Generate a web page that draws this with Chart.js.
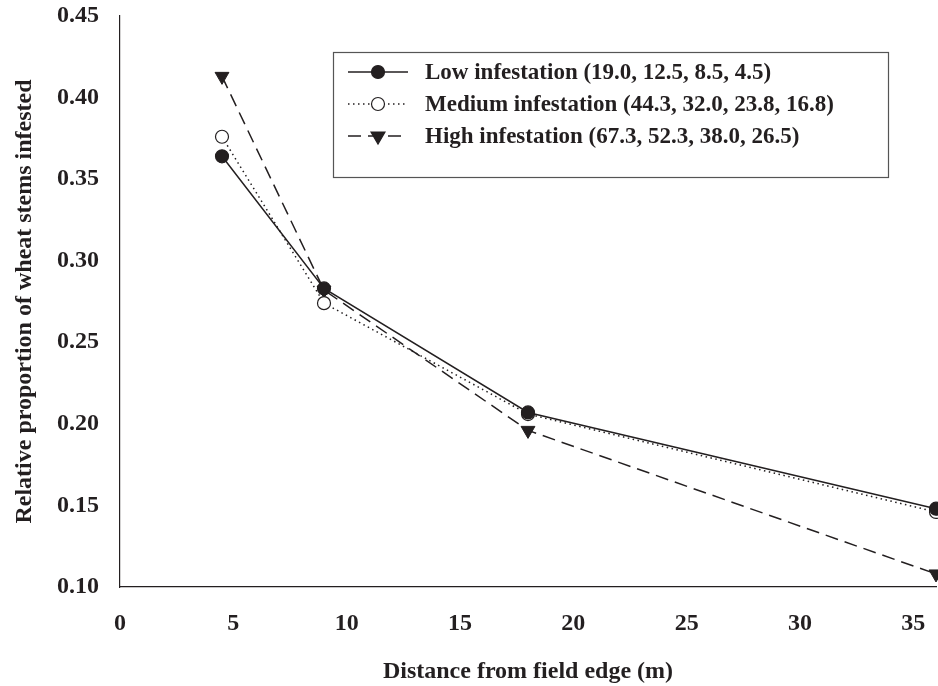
<!DOCTYPE html>
<html>
<head>
<meta charset="utf-8">
<script src="https://cdn.jsdelivr.net/npm/chart.js@4"></script>
<style>
  html, body { margin: 0; padding: 0; background: #fff; }
  #wrap { width: 938px; height: 686px; }
</style>
</head>
<body>
<div id="wrap"><canvas id="stemChart" width="938" height="686"></canvas></div>
<script>
// distances from field edge (m)
const distances = [4.5, 9, 18, 36];

// relative proportion of stems infested
const lowValues = [0.364, 0.283, 0.207, 0.148];
const mediumValues = [0.376, 0.274, 0.206, 0.146];
const highValues = [0.413, 0.282, 0.196, 0.108];

const seriesLabels = [
  "Low infestation (19.0, 12.5, 8.5, 4.5)",
  "Medium infestation (44.3, 32.0, 23.8, 16.8)",
  "High infestation (67.3, 52.3, 38.0, 26.5)"
];

const xTicks = [0, 5, 10, 15, 20, 25, 30, 35];
const yTicks = [0.10, 0.15, 0.20, 0.25, 0.30, 0.35, 0.40, 0.45];

const FONT = "'Liberation Serif', 'Times New Roman', serif";
const INK = "#231f20";

function toPoints(values) {
  return distances.map((d, i) => ({ x: d, y: values[i] }));
}

// Boxed legend with line-style samples, drawn in the top right of the plot
const boxLegend = {
  id: "boxLegend",
  afterDraw(chart) {
    const ctx = chart.ctx;
    const left = 333, top = 52, right = 888, bottom = 177;
    ctx.save();
    ctx.strokeStyle = "#555";
    ctx.lineWidth = 1.2;
    ctx.strokeRect(left + 0.5, top + 0.5, right - left, bottom - top);

    const rows = [72, 104, 136];
    chart.data.datasets.forEach((ds, i) => {
      const y = rows[i];
      ctx.strokeStyle = INK;
      ctx.lineWidth = ds.borderWidth;
      ctx.setLineDash(ds.borderDash || []);
      ctx.beginPath();
      ctx.moveTo(348, y);
      ctx.lineTo(408, y);
      ctx.stroke();
      ctx.setLineDash([]);

      // marker
      ctx.fillStyle = ds.pointBackgroundColor;
      ctx.strokeStyle = INK;
      ctx.lineWidth = 1.2;
      ctx.beginPath();
      if (ds.pointStyle === "triangle") {
        const r = 8;
        ctx.moveTo(378 - r * 0.87, y - r * 0.5);
        ctx.lineTo(378 + r * 0.87, y - r * 0.5);
        ctx.lineTo(378, y + r);
        ctx.closePath();
      } else {
        ctx.arc(378, y, 6.5, 0, Math.PI * 2);
      }
      ctx.fill();
      ctx.stroke();

      ctx.fillStyle = INK;
      ctx.font = "bold 23px " + FONT;
      ctx.textAlign = "left";
      ctx.textBaseline = "middle";
      ctx.fillText(ds.label, 425, y + 1);
    });
    ctx.restore();
  }
};

new Chart(document.getElementById("stemChart"), {
  type: "line",
  data: {
    datasets: [
      {
        label: seriesLabels[0],
        data: toPoints(lowValues),
        borderColor: INK,
        borderWidth: 1.5,
        pointStyle: "circle",
        pointRadius: 6.5,
        pointBackgroundColor: INK,
        pointBorderColor: INK,
        pointBorderWidth: 1.2,
        clip: false
      },
      {
        label: seriesLabels[1],
        data: toPoints(mediumValues),
        borderColor: INK,
        borderWidth: 1.5,
        borderDash: [1.5, 3.5],
        pointStyle: "circle",
        pointRadius: 6.5,
        pointBackgroundColor: "#fff",
        pointBorderColor: INK,
        pointBorderWidth: 1.2,
        clip: false
      },
      {
        label: seriesLabels[2],
        data: toPoints(highValues),
        borderColor: INK,
        borderWidth: 1.5,
        borderDash: [13, 7],
        pointStyle: "triangle",
        pointRotation: 180,
        pointRadius: 8,
        pointBackgroundColor: INK,
        pointBorderColor: INK,
        pointBorderWidth: 1,
        clip: false
      }
    ]
  },
  options: {
    responsive: false,
    animation: false,
    layout: { autoPadding: false, padding: { top: 16, right: 2, left: 0, bottom: 0 } },
    plugins: {
      legend: { display: false },
      tooltip: { enabled: false }
    },
    scales: {
      x: {
        type: "linear",
        min: 0,
        max: 36,
        afterBuildTicks: scale => { scale.ticks = xTicks.map(v => ({ value: v })); },
        afterFit: scale => { scale.height = 99; scale.paddingLeft = 0; scale.paddingRight = 0; },
        grid: { display: false, drawTicks: true, tickLength: 8, tickColor: INK, drawOnChartArea: false },
        border: { color: INK, width: 1.2 },
        ticks: {
          color: INK,
          padding: 14,
          maxRotation: 0,
          font: { family: FONT, size: 24, weight: "bold" },
          callback: v => String(v)
        },
        title: {
          display: true,
          text: "Distance from field edge (m)",
          color: INK,
          padding: { top: 5, bottom: 0 },
          font: { family: FONT, size: 24, weight: "bold" }
        }
      },
      y: {
        type: "linear",
        min: 0.10,
        max: 0.45,
        afterBuildTicks: scale => { scale.ticks = yTicks.map(v => ({ value: v })); },
        afterFit: scale => { scale.width = 120; scale.paddingTop = 0; scale.paddingBottom = 0; },
        grid: { display: false, drawTicks: true, tickLength: 8, tickColor: INK, drawOnChartArea: false },
        border: { color: INK, width: 1.2 },
        ticks: {
          color: INK,
          padding: 13,
          font: { family: FONT, size: 24, weight: "bold" },
          callback: v => Number(v).toFixed(2)
        },
        title: {
          display: true,
          text: "Relative proportion of wheat stems infested",
          color: INK,
          padding: { top: 10, bottom: 0 },
          font: { family: FONT, size: 24, weight: "bold" }
        }
      }
    }
  },
  plugins: [boxLegend]
});
</script>
</body>
</html>
